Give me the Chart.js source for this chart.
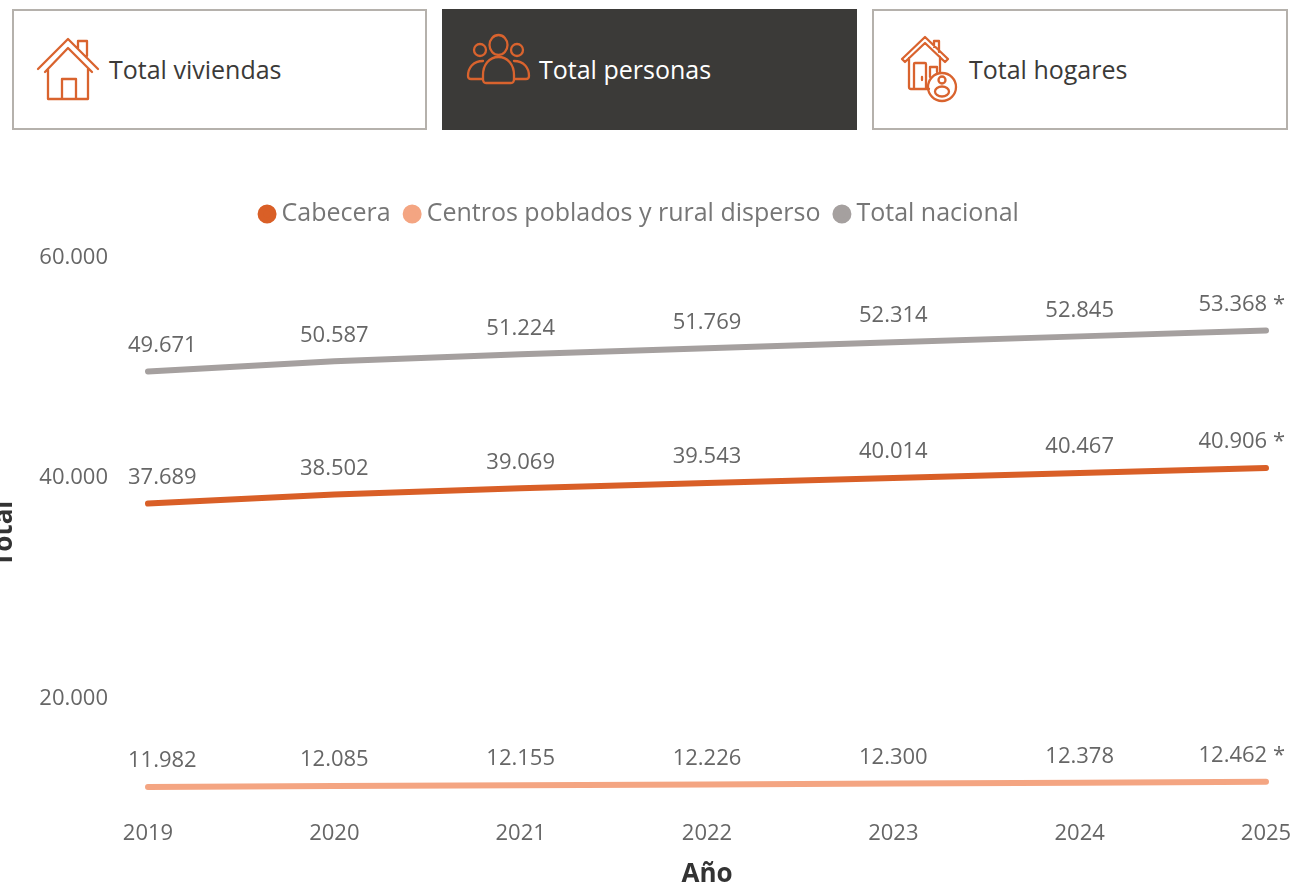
<!DOCTYPE html>
<html><head><meta charset="utf-8">
<script src="https://cdn.jsdelivr.net/npm/chart.js@4"></script>
<style>
html,body{margin:0;padding:0;background:#fff;overflow:hidden;width:1291px;height:885px}
.card{position:absolute;top:9px;height:121px;box-sizing:border-box;border:2px solid #b5b1ac;background:#fff;color:#3b3a38;font:25px "Open Sans",sans-serif}
.card span{position:absolute;top:58px;transform:translateY(-50%);white-space:nowrap;line-height:30px}
.card.on{background:#3b3a38;border-color:#3b3a38;color:#fff}
.card svg{position:absolute;left:-2px;top:-2px;overflow:visible}
.card svg *{fill:none;stroke:#d9632e;stroke-width:2.3;stroke-linejoin:round;stroke-linecap:round}
#wrap{position:absolute;left:-13px;top:130px;width:1304px;height:760px}
</style></head><body>
<div class="card" style="left:12px;width:415px"><svg width="415" height="121"><path d="M26 60L56 30L86 60M33 63L56 39L80 63M36 60V90H76V60M50 90V70H64V90M66 39V32H75V47"/></svg><span style="left:95px">Total viviendas</span></div>
<div class="card on" style="left:442px;width:415px"><svg width="415" height="121"><ellipse cx="56.5" cy="36" rx="9" ry="10"/><circle cx="38" cy="41" r="6"/><circle cx="75" cy="41" r="6"/><path d="M44 74H69Q72 74 72 70V66C72 56 66 48 56.5 48S41 56 41 66V70Q41 74 44 74ZM41 70H29Q26 70 26 67C26 59 31 52 41 52M72 70H84Q87 70 87 67C87 59 82 52 72 52"/></svg><span style="left:95px">Total personas</span></div>
<div class="card" style="left:872px;width:416px"><svg width="416" height="121"><path d="M30 50L53 28L76 50L73 53L53 34L33 53L30 50ZM37 49V78Q37 80 39 80H57M68 48V64M62 38V32H67V43M42 80V55Q42 54 43 54H53Q54 54 54 55V80M50 68V71M58 68V58H65V63"/><circle cx="70" cy="78" r="14"/><circle cx="70" cy="71" r="3.5"/><ellipse cx="70" cy="82.5" rx="7" ry="5"/></svg><span style="left:95px">Total hogares</span></div>
<div id="wrap"><canvas id="c" width="1304" height="760"></canvas></div>
<script>
const categories = ["2019","2020","2021","2022","2023","2024","2025"];
const cabecera = [37689,38502,39069,39543,40014,40467,40906];
const rural = [11982,12085,12155,12226,12300,12378,12462];
const nacional = [49671,50587,51224,51769,52314,52845,53368];
const yTicks = [20000,40000,60000];
const seriesNames = ["Cabecera","Centros poblados y rural disperso","Total nacional"];
const seriesColors = ["#d95f27","#f4a582","#a5a09f"];
const lastSuffix = " *";
const FONT = '"Open Sans", sans-serif';
const fmt = v => String(v).replace(/\B(?=(\d{3})+$)/g, ".");

const valueLabels = {
  id: "valueLabels",
  afterDatasetsDraw(chart) {
    const ctx = chart.ctx;
    ctx.save();
    ctx.font = "22px " + FONT;
    ctx.fillStyle = "#666666";
    ctx.textBaseline = "middle";
    ctx.textAlign = "center";
    chart.data.datasets.forEach((ds, i) => {
      chart.getDatasetMeta(i).data.forEach((pt, j) => {
        const t = fmt(ds.data[j]) + (j === ds.data.length - 1 ? lastSuffix : "");
        const w = ctx.measureText(t).width;
        let x = pt.x;
        x = Math.max(x, chart.chartArea.left - 20 + w / 2);
        x = Math.min(x, chart.chartArea.right + 19 - w / 2);
        ctx.fillText(t, x, pt.y - 26);
      });
    });
    ctx.restore();
  }
};

new Chart(document.getElementById("c"), {
  type: "line",
  data: {
    labels: categories,
    datasets: [cabecera, rural, nacional].map((d, i) => ({
      label: seriesNames[i], data: d,
      borderColor: seriesColors[i], backgroundColor: seriesColors[i],
      borderWidth: 6, pointRadius: 0, tension: 0, borderCapStyle: "round"
    }))
  },
  plugins: [valueLabels],
  options: {
    responsive: false, animation: false,
    layout: { autoPadding: false, padding: { right: 25, top: 52, left: 31, bottom: 0 } },
    plugins: {
      tooltip: { enabled: false },
      legend: {
        position: "top", align: "center",
        labels: {
          usePointStyle: true, pointStyle: "circle", boxWidth: 4, boxHeight: 9.2,
          padding: 19.5, color: "#767676", font: { family: FONT, size: 25 }
        }
      }
    },
    scales: {
      x: {
        grid: { display: false }, border: { display: false },
        ticks: { color: "#666666", font: { family: FONT, size: 22 }, maxRotation: 0, mirror: true, padding: -16, autoSkip: false },
        title: { display: true, text: "Año", color: "#333333", font: { family: FONT, size: 26, weight: "bold" }, padding: { top: 0, bottom: 0 } },
        afterFit(s) { s.height = 59; }
      },
      y: {
        min: 8000, max: 61900,
        grid: { display: false }, border: { display: false },
        afterBuildTicks(s) { s.ticks = yTicks.map(v => ({ value: v })); },
        ticks: { color: "#666666", font: { family: FONT, size: 22 }, padding: 32, callback: v => fmt(v) },
        title: { display: true, text: "Total", color: "#333333", font: { family: FONT, size: 26, weight: "bold" }, padding: { top: -29, bottom: 0 } },
        afterFit(s) { s.width = 130; }
      }
    }
  }
});
</script>
</body></html>
